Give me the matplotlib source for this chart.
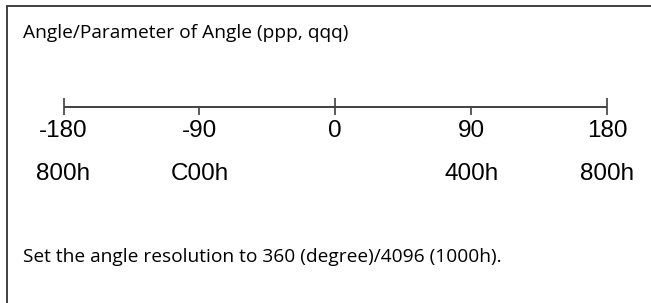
import matplotlib
matplotlib.use("Agg")
import matplotlib.pyplot as plt

# angle scale (degrees) and the matching hex parameter values
angles = [-180, -90, 0, 90, 180]
angle_labels = ["-180", "-90", "0", "90", "180"]
hex_labels = ["800h", "C00h", "", "400h", "800h"]
long_tick = [True, False, True, False, True]

title = "Angle/Parameter of Angle (ppp, qqq)"
note = "Set the angle resolution to 360 (degree)/4096 (1000h)."

W, H = 651, 303
fig = plt.figure(figsize=(W / 100, H / 100), dpi=100)

# frame: only the top and left edges show in the crop
ax = fig.add_axes([7 / W, 0, (W - 7) / W, (H - 6) / H])
for side in ("right", "bottom"):
    ax.spines[side].set_visible(False)
for side in ("left", "top"):
    ax.spines[side].set_color("#404040")
    ax.spines[side].set_linewidth(1.4)
ax.set_xticks([])
ax.set_yticks([])

# x in degrees, y in image pixels from top
px_per_deg = (607 - 63.5) / 360
ax.set_xlim(-180 - 56.5 / px_per_deg, 180 + 44 / px_per_deg)
ax.set_ylim(H, 6)

line_y = 107
ax.plot([angles[0], angles[-1]], [line_y, line_y], color="#404040", lw=1.4,
        solid_capstyle="butt")
for a, lt in zip(angles, long_tick):
    top = line_y - 9 if lt else line_y
    ax.plot([a, a], [top, line_y + 8], color="#404040", lw=1.2,
            solid_capstyle="butt")

num_font = dict(family="Liberation Sans", fontsize=17.5, color="black")
for a, lab, hx in zip(angles, angle_labels, hex_labels):
    ax.text(a, 131, lab, ha="center", va="center", **num_font)
    if hx:
        ax.text(a, 174, hx, ha="center", va="center", **num_font)

text_font = dict(family="Open Sans", fontsize=13.8, color="black")
x0 = -180 - (63.5 - 23) / px_per_deg
ax.text(x0, 33, title, ha="left", va="center", **text_font)
ax.text(x0, 257, note, ha="left", va="center", **text_font)

fig.savefig("out.png", dpi=100)
